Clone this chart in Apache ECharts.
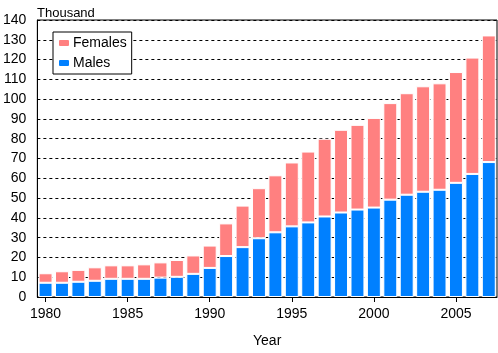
<!DOCTYPE html>
<html>
<head>
<meta charset="utf-8">
<script src="https://cdn.jsdelivr.net/npm/echarts@6/dist/echarts.min.js"></script>
<style>
  html, body { margin: 0; padding: 0; background: #fff; }
  #chart { width: 498px; height: 353px; }
</style>
</head>
<body>
<div id="chart"></div>
<script>
const years = ['1980','1981','1982','1983','1984','1985','1986','1987','1988','1989',
  '1990','1991','1992','1993','1994','1995','1996','1997','1998','1999',
  '2000','2001','2002','2003','2004','2005','2006','2007']

// thousands
const males   = [7.2, 7.2, 7.7, 8.2, 9.2, 9.2, 9.2, 9.8, 10.2, 11.7,
  14.7, 20.7, 25.2, 29.7, 32.7, 35.7, 37.7, 40.7, 42.7, 44.2,
  45.2, 49.2, 51.7, 53.2, 54.2, 57.7, 62.2, 68.2]
const females = [4.8, 5.8, 6.0, 6.8, 6.8, 6.8, 7.3, 7.7, 8.5, 9.3,
  11.3, 16.5, 21.0, 25.3, 28.8, 32.3, 35.8, 39.3, 41.8, 42.8,
  45.3, 48.8, 51.3, 53.3, 53.8, 56.0, 58.8, 64.0]

const yMax = 140
const yStep = 10

const font = '"Liberation Sans", Arial, sans-serif'
const chart = echarts.init(document.getElementById('chart'), null, { renderer: 'canvas' })

chart.setOption({
  animation: false,
  backgroundColor: '#fff',
  title: {
    text: 'Thousand', left: 32, top: 2,
    textStyle: { fontFamily: font, fontSize: 13, fontWeight: 'normal', color: '#000' },
  },
  grid: {
    left: 35, right: 1, top: 20, bottom: 54,
    show: true, borderColor: '#000', borderWidth: 1, backgroundColor: 'transparent',
  },
  legend: {
    orient: 'vertical', left: 53, top: 32,
    data: ['Females', 'Males'],
    backgroundColor: '#fff', borderColor: '#000', borderWidth: 1,
    padding: [4, 5, 4, 4], itemGap: 6,
    itemWidth: 12, itemHeight: 8,
    textStyle: { fontFamily: font, fontSize: 14, color: '#000', padding: [0, 0, 0, -2] },
  },
  xAxis: {
    type: 'category', data: years,
    name: 'Year', nameLocation: 'middle', nameGap: 37,
    nameTextStyle: { fontFamily: font, fontSize: 14, color: '#000' },
    axisLine: { lineStyle: { color: '#000', width: 1 } },
    axisTick: { show: true, interval: 4, alignWithLabel: true, length: 5, lineStyle: { color: '#000' } },
    axisLabel: { interval: 4, margin: 10, fontFamily: font, fontSize: 14, color: '#000' },
    splitLine: { show: false },
  },
  yAxis: {
    type: 'value', min: 0, max: yMax, interval: yStep,
    axisLine: { show: true, lineStyle: { color: '#000', width: 1 } },
    axisTick: { show: false },
    axisLabel: { margin: 11, fontFamily: font, fontSize: 14, color: '#000' },
    splitLine: { lineStyle: { color: '#000', type: [3, 3], width: 1 } },
  },
  series: [
    {
      name: 'Males', type: 'bar', stack: 'total', data: males,
      barCategoryGap: '15%',
      itemStyle: { color: '#0080FF', borderColor: '#fff', borderWidth: 1 },
    },
    {
      name: 'Females', type: 'bar', stack: 'total', data: females,
      barCategoryGap: '15%',
      itemStyle: { color: '#FF8080', borderColor: '#fff', borderWidth: 1 },
    },
  ],
})
</script>
</body>
</html>
